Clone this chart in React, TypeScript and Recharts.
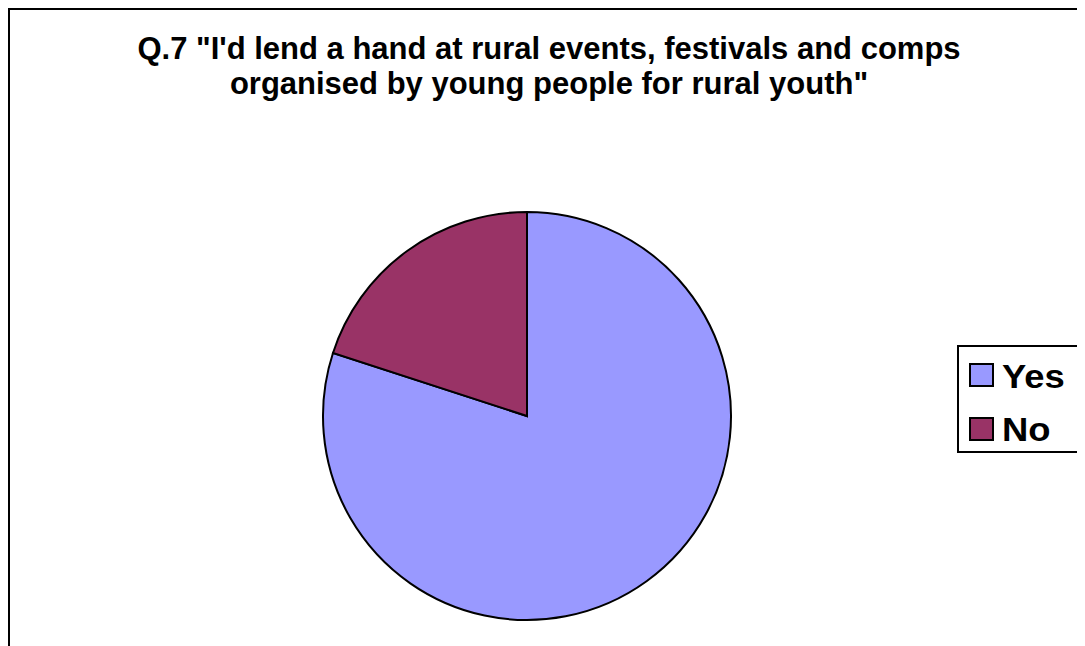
import React from "react";
import { PieChart, Pie, Cell, Legend } from "recharts";

const categories = ["Yes", "No"];
const values = [80, 20];
const colors = ["#9999FF", "#993366"];
const titleLines = [
  "Q.7 \"I'd lend a hand at rural events, festivals and comps",
  "organised by young people for rural youth\"",
];

const data = categories.map((name, i) => ({ name, value: values[i] }));

const FONT = "'Liberation Sans', Arial, Helvetica, sans-serif";

function LegendBox() {
  const rows = [
    { sq: 16, txt: 11.7 },
    { sq: 70, txt: 64.7 },
  ];
  return (
    <div
      style={{
        position: "relative",
        border: "2px solid #000",
        background: "#fff",
        width: 123,
        height: 108,
        boxSizing: "border-box",
        fontFamily: FONT,
        fontWeight: "bold",
        fontSize: 34,
      }}
    >
      {data.map((d, i) => (
        <React.Fragment key={d.name}>
          <div
            style={{
              position: "absolute",
              left: 10,
              top: rows[i].sq,
              width: 21,
              height: 20,
              background: colors[i],
              border: "2px solid #000",
            }}
          />
          <div
            style={{
              position: "absolute",
              left: 43,
              top: rows[i].txt,
              lineHeight: "34px",
              transform: "scaleX(1.07)",
              transformOrigin: "left center",
              whiteSpace: "nowrap",
            }}
          >
            {d.name}
          </div>
        </React.Fragment>
      ))}
    </div>
  );
}

export default function App() {
  return (
    <div style={{ position: "relative", width: 1077, height: 638, overflow: "hidden", background: "#fff" }}>
      <div
        style={{
          position: "absolute",
          left: 0,
          top: 0,
          width: 1200,
          height: 800,
          border: "2px solid #000",
          boxSizing: "border-box",
        }}
      />
      <div
        style={{
          position: "absolute",
          left: 0,
          top: 23,
          width: 1082,
          textAlign: "center",
          fontFamily: FONT,
          fontWeight: "bold",
          fontSize: 31,
          lineHeight: "35px",
          color: "#000",
          zIndex: 2,
        }}
      >
        {titleLines.map((l) => (
          <div key={l}>{l}</div>
        ))}
      </div>
      <div style={{ position: "absolute", left: 0, top: 0 }}>
        <PieChart width={1077} height={638}>
          <Pie
            data={data}
            dataKey="value"
            nameKey="name"
            cx={514}
            cy={403}
            outerRadius={204}
            startAngle={90}
            endAngle={-270}
            stroke="#000"
            strokeWidth={2}
            isAnimationActive={false}
            label={false}
            labelLine={false}
          >
            {data.map((d, i) => (
              <Cell key={d.name} fill={colors[i]} stroke="#000" strokeWidth={2} />
            ))}
          </Pie>
          <Legend
            content={() => <LegendBox />}
            wrapperStyle={{ position: "absolute", left: 949, top: 337, width: 123 }}
          />
        </PieChart>
      </div>
    </div>
  );
}
